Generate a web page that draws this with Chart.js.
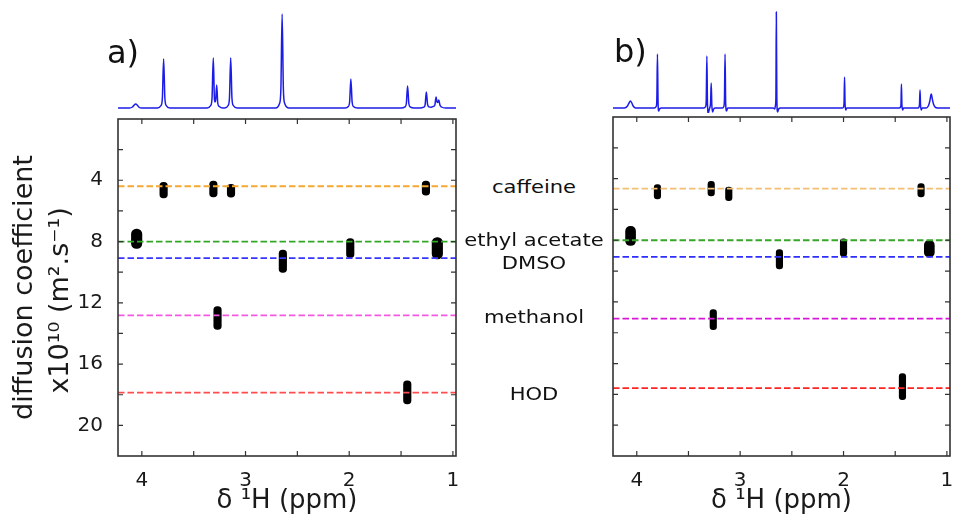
<!DOCTYPE html>
<html>
<head>
<meta charset="utf-8">
<script src="https://cdn.jsdelivr.net/npm/chart.js@4.4.1/dist/chart.umd.min.js"></script>
<style>
  html, body { margin: 0; padding: 0; background: #fff; }
  body { width: 954px; height: 517px; position: relative; overflow: hidden;
         font-family: 'DejaVu Sans', sans-serif; color: #111; }
  canvas { position: absolute; }
  .compound { position: absolute; font-size: 18px; line-height: 18px; white-space: nowrap;
              transform: translateX(-50%) scaleX(1.17); }
  .tag { position: absolute; font-size: 32px; line-height: 32px; white-space: nowrap; }
</style>
</head>
<body>
<canvas id="specA" width="338" height="102" style="left:118px; top:11px"></canvas>
<canvas id="specB" width="337" height="102" style="left:613px; top:11px"></canvas>
<canvas id="dosyA" width="480" height="417" style="left:0px; top:100px"></canvas>
<canvas id="dosyB" width="374" height="417" style="left:580px; top:100px"></canvas>
<div class="tag" style="left:107px; top:36px">a)</div>
<div class="tag" style="left:614px; top:35px">b)</div>
<div id="names"></div>
<script>
// ---- axis ticks ----
const ppmTicks = [1, 2, 3, 4];
const ppmMinorTicks = [1.5, 2.5, 3.5];
const diffTicks = [4, 8, 12, 16, 20];
const diffMinorTicks = [2, 6, 10, 14, 18];

// ---- compounds and their mean diffusion coefficients (x10^-10 m^2/s) ----
const compounds = ['caffeine', 'ethyl acetate', 'DMSO', 'methanol', 'HOD'];
const diffusionA = [4.39, 8.0, 9.08, 12.82, 17.86];
const diffusionB = [4.65, 8.0, 9.08, 13.08, 17.6];

// ---- DOSY cross peaks: chemical shift (ppm) and diffusion spread (low, high) ----
// singlets
const peakShiftA = [3.79, 3.31, 3.14, 1.26, 2.64, 1.99, 3.27, 1.44];
const peakLowA   = [4.13, 4.06, 4.26, 4.06, 8.55, 7.81, 12.24, 17.1];
const peakHighA  = [5.15, 5.08, 5.10, 4.97, 10.02, 9.06, 13.73, 18.6];
// multiplets
const multShiftA = [4.05, 1.15];
const multLowA   = [7.18, 7.74];
const multHighA  = [8.45, 9.14];

const peakShiftB = [3.80, 3.28, 3.11, 1.25, 2.62, 2.00, 3.26, 1.43];
const peakLowB   = [4.39, 4.18, 4.54, 4.32, 8.60, 7.91, 12.5, 16.65];
const peakHighB  = [5.32, 5.12, 5.43, 5.19, 9.86, 9.04, 13.8, 18.34];
const multShiftB = [4.06, 1.17];
const multLowB   = [7.09, 8.0];
const multHighB  = [8.34, 9.1];

// ---- 1H spectra: chemical shift (ppm) and intensity ----
const specShiftA = [4.23,
  4.12, 4.09, 4.075, 4.06, 4.045, 4.03, 4.00,
  3.85, 3.815, 3.802, 3.79, 3.778, 3.765, 3.73,
  3.37, 3.336, 3.323, 3.311, 3.30, 3.294, 3.288, 3.278, 3.268, 3.253, 3.22,
  3.20, 3.168, 3.155, 3.143, 3.131, 3.118, 3.08,
  2.71, 2.672, 2.659, 2.647, 2.635, 2.622, 2.58,
  2.04, 2.009, 1.996, 1.984, 1.972, 1.959, 1.92,
  1.50, 1.462, 1.449, 1.437, 1.425, 1.412, 1.37,
  1.32, 1.281, 1.268, 1.256, 1.244, 1.231, 1.21,
  1.19, 1.174, 1.162, 1.153, 1.145, 1.136, 1.125, 1.11, 1.07, 0.97];
const specIntA = [0,
  0, 1, 2.8, 4, 3, 1, 0,
  0, 2.5, 10, 49, 10, 2.5, 0,
  0, 2.5, 10, 50, 9, 6, 8, 23, 5, 1.5, 0,
  0, 2.5, 10, 50, 10, 2.5, 0,
  0, 4.5, 19, 94, 19, 4.5, 0,
  0, 1.5, 6, 29, 6, 1.5, 0,
  0, 1.1, 4.5, 22, 4.5, 1.1, 0,
  0, 0.8, 3.2, 16, 3.5, 1.2, 0.8,
  1.5, 3, 11, 6, 5.5, 8, 3, 1, 0, 0];

const specShiftB = [4.23,
  4.12, 4.09, 4.075, 4.062, 4.05, 4.035, 4.01,
  3.83, 3.812, 3.806, 3.80, 3.794, 3.788, 3.78, 3.76,
  3.35, 3.334, 3.328, 3.322, 3.316, 3.308, 3.30, 3.292, 3.286, 3.28, 3.274, 3.266, 3.256, 3.24,
  3.17, 3.158, 3.152, 3.146, 3.14, 3.132, 3.12,
  2.68, 2.665, 2.658, 2.654, 2.65, 2.645, 2.638, 2.628, 2.61,
  2.01, 2.0, 1.995, 1.99, 1.985, 1.978, 1.97,
  1.46, 1.449, 1.444, 1.44, 1.435, 1.428, 1.42,
  1.28, 1.27, 1.265, 1.26, 1.255, 1.248, 1.24,
  1.20, 1.18, 1.165, 1.155, 1.15, 1.143, 1.13, 1.115, 1.09, 0.97];
const specIntB = [0,
  0, 2, 5, 7, 5.5, 2, 0,
  0, 1.5, 8, 54, 6, -3, -1, 0,
  0, 1.5, 8, 52, 4, -5, -2, 1, 5, 25, 3, -4, -1, 0,
  0, 1.5, 8, 54, 5, -3, 0,
  0, -1, 3, 12, 96, 10, -4, -1, 0,
  0, 1, 5, 31, 4, -2, 0,
  0, 1, 4, 24, 3, -2, 0,
  0, 1, 4, 18, 3, -2, 0,
  0, 2, 7, 13, 14, 10, 4, 1, 0, 0];

// ---- styles ----
const FONT = "'DejaVu Sans', sans-serif";
const lineColorsA = ['#f5a832', '#30a824', '#3636ff', '#f258e2', '#ff4c4c'];
const lineColorsB = ['#f4bf72', '#38a62a', '#2e2eff', '#d818d8', '#ff2424'];
const labelBaselines = [193.3, 245.7, 269.3, 322.7, 400.3];
const PPM_MIN = 0.97, PPM_MAX = 4.23;

// frame box with inward tick marks on all four sides
const frameTicks = {
  id: 'frameTicks',
  afterDatasetsDraw(chart) {
    const { ctx, chartArea: a, scales: { x, y } } = chart;
    const len = 5;
    ctx.save();
    ctx.strokeStyle = '#333';
    ctx.lineWidth = 1.2;
    ctx.beginPath();
    for (const v of ppmTicks.concat(ppmMinorTicks)) {
      const px = x.getPixelForValue(v);
      ctx.moveTo(px, a.bottom); ctx.lineTo(px, a.bottom - len);
      ctx.moveTo(px, a.top); ctx.lineTo(px, a.top + len);
    }
    for (const v of diffTicks.concat(diffMinorTicks)) {
      const py = y.getPixelForValue(v);
      ctx.moveTo(a.left, py); ctx.lineTo(a.left + len, py);
      ctx.moveTo(a.right, py); ctx.lineTo(a.right - len, py);
    }
    ctx.stroke();
    ctx.lineWidth = 1.6;
    ctx.strokeRect(a.left, a.top, a.right - a.left, a.bottom - a.top);
    ctx.restore();
  }
};

function dosyChart(id, opts) {
  const peakSet = (shift, low, high, width) => ({
    type: 'bar',
    data: shift.map((s, i) => ({ x: s, y: [low[i], high[i]] })),
    backgroundColor: '#000',
    borderWidth: 0,
    barThickness: width,
    borderRadius: 20,
    borderSkipped: false,
    stack: 'peaks',
    order: 2
  });
  const levels = compounds.map((name, i) => ({
    type: 'line',
    label: name,
    data: [{ x: PPM_MAX, y: opts.diffusion[i] }, { x: PPM_MIN, y: opts.diffusion[i] }],
    borderColor: opts.colors[i],
    borderWidth: 1.8,
    borderDash: [6.5, 3],
    pointRadius: 0,
    order: 0
  }));
  return new Chart(document.getElementById(id), {
    type: 'line',
    data: {
      datasets: [
        ...levels,
        peakSet(opts.shift, opts.low, opts.high, opts.narrow),
        peakSet(opts.multShift, opts.multLow, opts.multHigh, opts.wide)
      ]
    },
    options: {
      responsive: false,
      animation: false,
      devicePixelRatio: 1,
      layout: { padding: { left: opts.padLeft, top: 17, right: opts.padRight, bottom: 0 } },
      plugins: { legend: { display: false }, tooltip: { enabled: false } },
      scales: {
        x: {
          type: 'linear', min: PPM_MIN, max: PPM_MAX, reverse: true, offset: false,
          grid: { display: false, offset: false }, border: { display: false },
          afterBuildTicks: s => { s.ticks = ppmTicks.map(v => ({ value: v })); },
          afterFit: s => { s.height = 61; },
          ticks: { color: '#1a1a1a', padding: 5, font: { family: FONT, size: 20 } },
          title: {
            display: true, text: 'δ ¹H (ppm)', color: '#1a1a1a',
            padding: { top: 0, bottom: 0 }, font: { family: FONT, size: 26 }
          }
        },
        y: {
          type: 'linear', min: 0, max: 22, reverse: true, stacked: false,
          grid: { display: false }, border: { display: false },
          afterBuildTicks: s => { s.ticks = diffTicks.map(v => ({ value: v })); },
          afterFit: s => { s.width = opts.yWidth; },
          ticks: { display: opts.showY, color: '#1a1a1a', padding: 7, font: { family: FONT, size: 20 } },
          title: {
            display: opts.showY,
            text: ['diffusion coefficient', 'x10¹⁰ (m².s⁻¹)   '],
            color: '#1a1a1a',
            padding: { top: 7, bottom: 0 },
            font: { family: FONT, size: 27, lineHeight: 1.333 }
          }
        }
      }
    },
    plugins: [frameTicks]
  });
}

function spectrumChart(id, shift, intensity) {
  return new Chart(document.getElementById(id), {
    type: 'line',
    data: {
      datasets: [{
        data: shift.map((s, i) => ({ x: s, y: intensity[i] })),
        borderColor: '#1c1ce8',
        borderWidth: 1.5,
        pointRadius: 0,
        cubicInterpolationMode: 'monotone',
        clip: false
      }]
    },
    options: {
      responsive: false,
      animation: false,
      devicePixelRatio: 1,
      layout: { padding: 0 },
      plugins: { legend: { display: false }, tooltip: { enabled: false } },
      scales: {
        x: { type: 'linear', min: PPM_MIN, max: PPM_MAX, reverse: true, display: false },
        y: { type: 'linear', min: -5, max: 97, display: false }
      }
    }
  });
}

spectrumChart('specA', specShiftA, specIntA);
spectrumChart('specB', specShiftB, specIntB);

dosyChart('dosyA', {
  diffusion: diffusionA, colors: lineColorsA,
  shift: peakShiftA, low: peakLowA, high: peakHighA,
  multShift: multShiftA, multLow: multLowA, multHigh: multHighA,
  narrow: 7.5, wide: 10.5, padLeft: 0, padRight: 24, yWidth: 118, showY: true
});
dosyChart('dosyB', {
  diffusion: diffusionB, colors: lineColorsB,
  shift: peakShiftB, low: peakLowB, high: peakHighB,
  multShift: multShiftB, multLow: multLowB, multHigh: multHighB,
  narrow: 6.5, wide: 10, padLeft: 0, padRight: 4, yWidth: 33, showY: false
});

// compound names between the panels
const names = document.getElementById('names');
compounds.forEach((name, i) => {
  const d = document.createElement('div');
  d.className = 'compound';
  d.textContent = name;
  d.style.left = '534px';
  d.style.top = (labelBaselines[i] - 15.2) + 'px';
  names.appendChild(d);
});
</script>
</body>
</html>
